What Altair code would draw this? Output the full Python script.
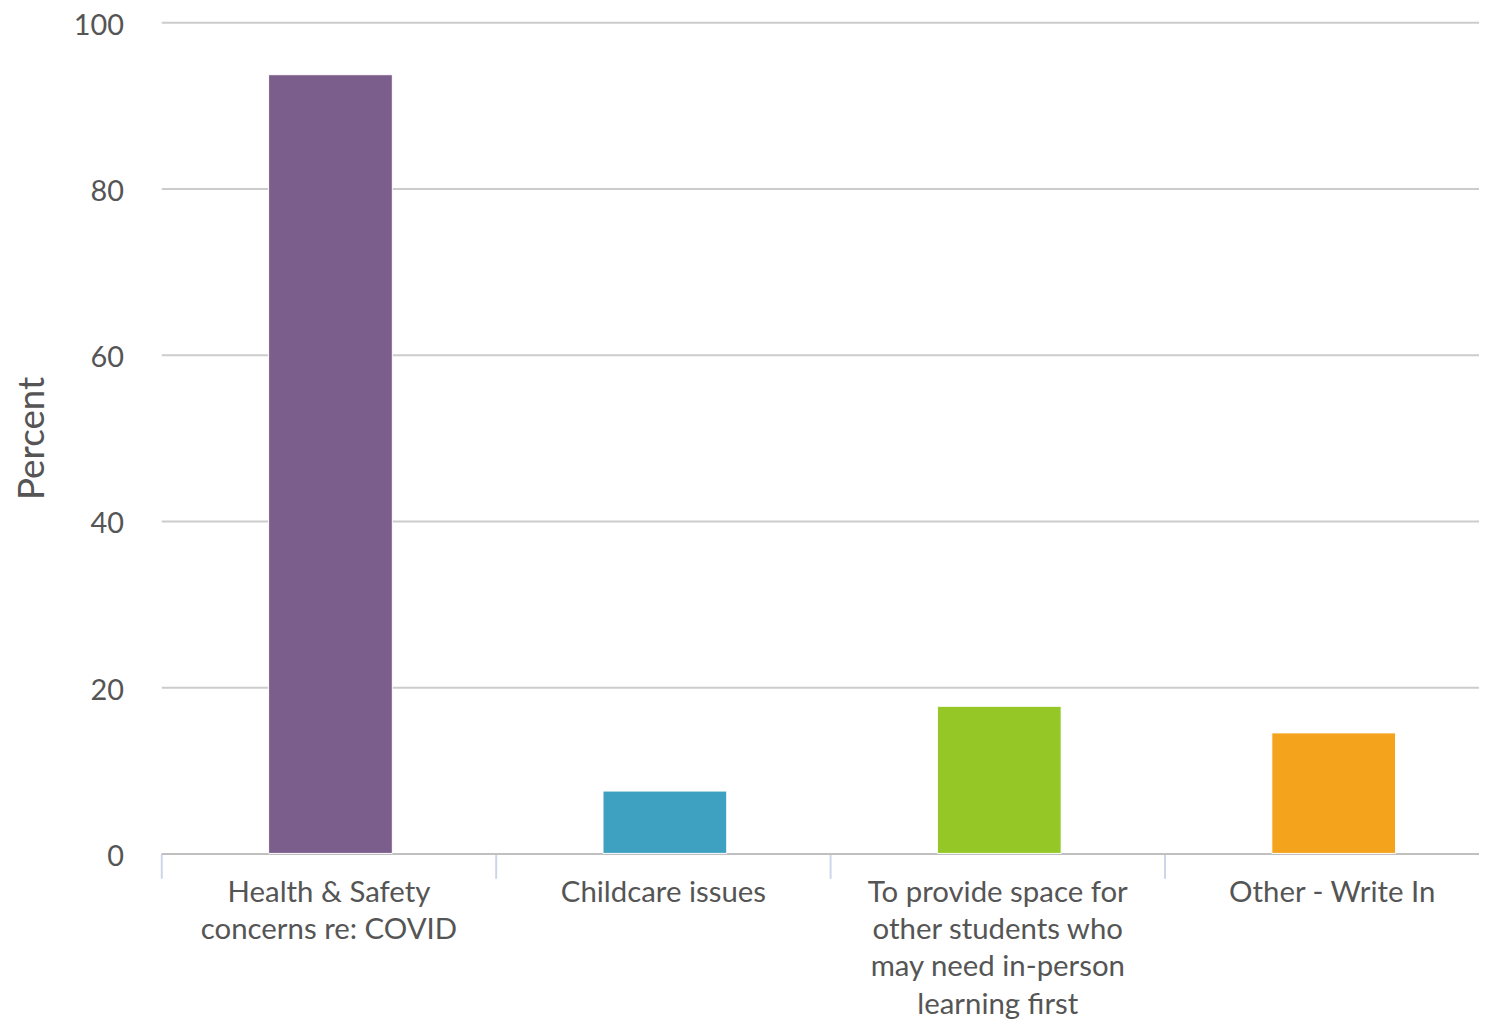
import altair as alt
import pandas as pd

categories = [
    "Health & Safety\nconcerns re: COVID",
    "Childcare issues",
    "To provide space for\nother students who\nmay need in-person\nlearning first",
    "Other - Write In",
]
percents = [93.7, 7.5, 17.7, 14.5]
colors = ["#7B5E8C", "#3FA1C1", "#95C726", "#F4A31C"]
y_ticks = [0, 20, 40, 60, 80, 100]

df = pd.DataFrame({"category": categories, "percent": percents})

FONT = "Lato"

chart = (
    alt.Chart(df)
    .mark_bar(width=alt.RelativeBandSize(0.37), xOffset=2, stroke="white", strokeWidth=1)
    .encode(
        x=alt.X(
            "category:N",
            sort=categories,
            scale=alt.Scale(paddingInner=0, paddingOuter=0),
            axis=alt.Axis(
                title=None,
                labelAngle=0,
                labelExpr="split(datum.label, '\\n')",
                labelFont=FONT,
                labelFontSize=29.5,
                labelColor="#555555",
                labelLineHeight=37.5,
                labelPadding=0,
                labelBaseline="top",
                labelLimit=400,
                tickBand="extent",
                tickColor="#ccd6eb",
                tickWidth=2,
                tickSize=25,
                domainColor="#c0c0c0",
                domainWidth=2,
                grid=False,
            ),
        ),
        y=alt.Y(
            "percent:Q",
            scale=alt.Scale(domain=[0, 100], nice=False),
            axis=alt.Axis(
                title="Percent",
                titleFont=FONT,
                titleFontSize=37,
                titleFontWeight="normal",
                titleColor="#555555",
                titlePadding=22,
                values=y_ticks,
                labelFont=FONT,
                labelFontSize=29,
                labelColor="#555555",
                labelPadding=38,
                labelOffset=3,
                ticks=False,
                domain=False,
                gridColor="#cccccc",
                gridWidth=2,
            ),
        ),
        color=alt.Color(
            "category:N",
            sort=categories,
            scale=alt.Scale(domain=categories, range=colors),
            legend=None,
        ),
    )
    .properties(
        width=1344,
        height=835,
        autosize="none",
        padding={"left": 154, "top": 12, "right": -20, "bottom": 169},
    )
    .configure_view(stroke=None)
)

chart.save("out.html", embed_options={"renderer": "svg", "actions": False})
